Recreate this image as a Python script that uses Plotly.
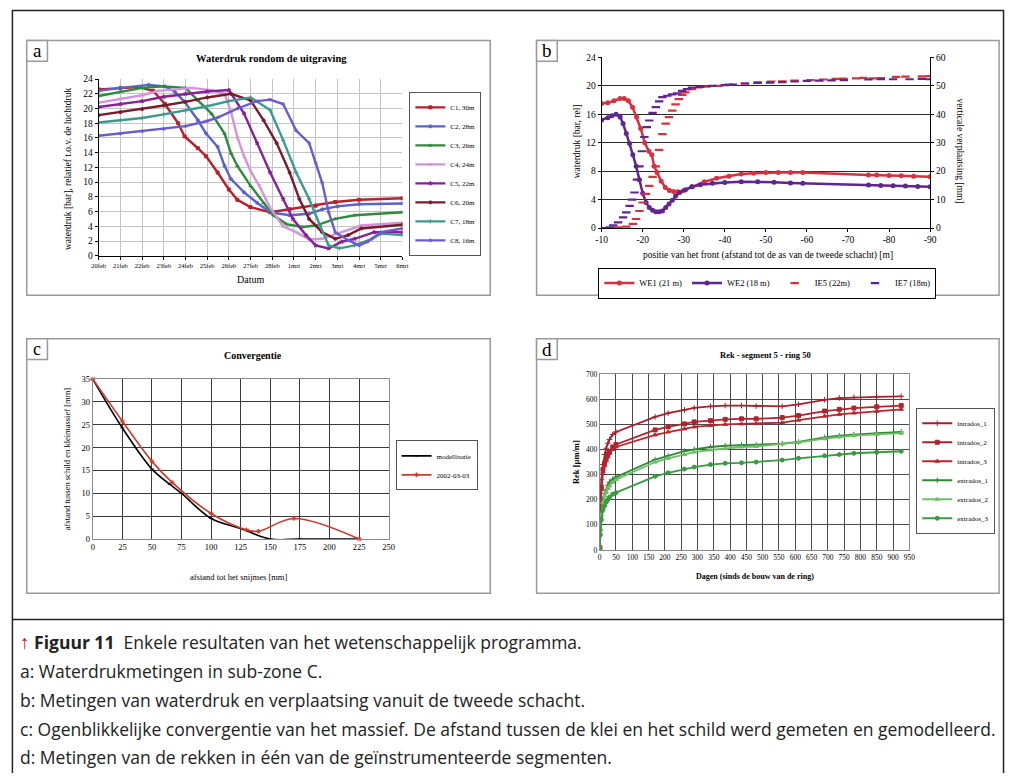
import plotly.graph_objects as go

W, H = 1013, 778
def px(x): return x / W
def py(y): return 1 - y / H

SERIF = "Liberation Serif"
SANS = "Open Sans"

# ---------------- Panel a: Waterdruk rondom de uitgraving ----------------
a_ticktext = ["20feb", "21feb", "22feb", "23feb", "24feb", "25feb", "26feb", "27feb",
              "28feb", "1mrt", "2mrt", "3mrt", "4mrt", "5mrt", "6mrt"]
a_names = ["C1, 30m", "C2, 28m", "C3, 26m", "C4, 24m", "C5, 22m", "C6, 20m", "C7, 18m", "C8, 16m"]

c1_day = [0, 1.0, 1.85, 2.5, 3.05, 3.66, 3.96, 4.57, 4.95, 5.48, 6.0, 6.39, 6.99, 7.9, 8.8, 10.0, 10.9, 12.0, 14.0]
c1_val = [22.6, 22.8, 22.9, 22.4, 20.6, 18.0, 16.2, 14.6, 13.5, 11.3, 9.0, 7.6, 6.6, 5.9, 6.3, 6.8, 7.3, 7.6, 7.8]
c2_day = [0, 1.0, 2.3, 3.05, 3.5, 3.96, 4.57, 4.95, 5.48, 5.8, 6.1, 6.7, 7.3, 7.9, 8.8, 9.7, 10.3, 11.0, 12.0, 14.0]
c2_val = [22.4, 22.8, 23.2, 23.0, 22.3, 20.9, 18.4, 16.6, 14.8, 12.2, 10.4, 8.6, 7.2, 5.9, 5.5, 5.7, 6.3, 6.7, 7.0, 7.1]
c3_day = [0, 1.0, 2.0, 3.0, 4.0, 4.57, 5.2, 5.8, 6.1, 6.39, 7.0, 7.6, 8.05, 8.65, 9.4, 10.0, 10.9, 11.8, 14.0]
c3_val = [21.7, 22.3, 22.8, 23.0, 22.8, 21.1, 19.3, 16.6, 13.9, 12.2, 9.5, 7.2, 5.5, 4.3, 3.9, 4.1, 5.0, 5.5, 5.9]
c4_day = [0, 1.0, 2.0, 2.75, 4.27, 5.2, 5.8, 6.1, 6.4, 6.7, 7.0, 7.4, 7.9, 8.5, 9.1, 9.7, 10.3, 11.2, 12.1, 14.0]
c4_val = [20.8, 21.3, 21.8, 22.4, 22.8, 22.5, 22.0, 19.5, 16.0, 13.5, 11.5, 9.5, 6.5, 4.0, 3.2, 2.2, 2.3, 3.2, 4.1, 4.5]
c5_day = [0, 1.0, 2.0, 3.0, 4.0, 5.0, 6.0, 6.7, 7.3, 7.9, 8.5, 8.95, 9.55, 10.0, 10.6, 11.2, 11.8, 12.7, 14.0]
c5_val = [20.2, 20.6, 21.0, 21.6, 22.0, 22.3, 22.5, 19.3, 15.3, 11.3, 7.7, 5.0, 2.8, 1.4, 1.0, 1.9, 2.3, 3.2, 3.2]
c6_day = [0, 1.0, 2.0, 3.0, 4.0, 5.0, 6.1, 7.0, 7.6, 8.2, 8.8, 9.25, 9.7, 10.3, 10.9, 11.5, 12.1, 14.0]
c6_val = [19.1, 19.5, 19.9, 20.4, 20.9, 21.5, 22.0, 21.1, 18.4, 15.3, 11.3, 7.7, 5.0, 3.2, 2.3, 2.8, 3.7, 4.2]
c7_day = [0, 1.0, 2.0, 3.0, 4.0, 5.0, 6.0, 7.0, 7.9, 8.5, 9.1, 9.7, 10.2, 10.6, 11.1, 11.8, 12.6, 13.0, 14.0]
c7_val = [18.1, 18.4, 18.7, 19.2, 19.7, 20.3, 21.0, 21.5, 19.8, 15.7, 11.3, 7.7, 4.1, 1.4, 1.0, 1.4, 2.3, 3.0, 2.8]
c8_day = [0, 1.0, 2.0, 3.0, 4.0, 5.0, 5.5, 6.4, 7.3, 7.9, 8.5, 9.1, 9.7, 10.0, 10.3, 10.6, 10.9, 11.5, 12.0, 12.4, 13.0, 14.0]
c8_val = [16.3, 16.6, 16.9, 17.2, 17.6, 18.3, 18.8, 20.0, 21.0, 21.2, 20.6, 17.0, 15.3, 12.6, 9.9, 5.9, 3.2, 2.1, 1.4, 1.9, 3.2, 3.7]

a_colors = ["#b8202c", "#5a63c8", "#2f8a3c", "#d493d8", "#86219a", "#7a1a2c", "#3b9a8e", "#6a5ad0"]
a_symbols = ["square", "circle", "triangle-up", "x-thin", "star", "circle", "cross-thin", "asterisk"]

# ---------------- Panel b: waterdruk / verplaatsing ----------------
we1_x = [-10, -11.5, -13, -14.5, -15.5, -16.5, -17.5, -18.5, -19.5, -20.5, -21.5, -22.2, -22.8, -23.5, -24.5,
         -25.5, -26.5, -27.5, -28.5, -30, -32, -35, -38, -41, -44, -47, -50, -53, -56, -59,
         -75, -77, -80, -83, -86, -90]
we1_y = [17.5, 17.6, 17.9, 18.2, 18.2, 17.9, 17.0, 15.6, 14.0, 12.0, 10.8, 10.3, 8.7, 7.8, 6.6,
         5.7, 5.3, 5.15, 5.1, 5.3, 5.8, 6.5, 7.0, 7.3, 7.6, 7.7, 7.8, 7.8, 7.8, 7.8,
         7.45, 7.45, 7.4, 7.35, 7.3, 7.2]
we2_x = [-10, -11.5, -12.5, -13.5, -14.5, -15.2, -16, -16.8, -17.6, -18.4, -19.2, -20, -20.8, -21.6, -22.4,
         -23.2, -24, -24.8, -25.6, -26.4, -27.2, -28, -29, -30.4, -32, -34, -37, -40, -44, -48, -52, -56, -59,
         -75, -78, -81, -84, -87, -90]
we2_y = [15.2, 15.5, 15.8, 16.0, 15.6, 14.7, 13.3, 11.9, 10.3, 8.7, 6.8, 4.9, 3.6, 2.9, 2.5,
         2.3, 2.3, 2.4, 2.9, 3.4, 3.9, 4.5, 5.0, 5.4, 5.8, 6.1, 6.3, 6.4, 6.5, 6.5, 6.45, 6.35, 6.3,
         6.05, 6.0, 5.95, 5.9, 5.85, 5.8]
ie5_x = [-10, -12, -14, -16, -17.6, -18.4, -19.2, -20, -20.8, -21.6, -22.4, -23.2, -24, -24.8, -25.6, -26.4,
         -27.2, -28, -28.8, -29.6, -30.4, -32, -33.6, -35.5, -38.4, -41, -44.9, -48, -51.3, -54, -57, -60.9,
         -64, -67, -68.9, -72, -73.7, -76, -78, -81.7, -84, -88, -89.8]
ie5_y = [0, 0, 0.3, 0.5, 1.5, 3.2, 6, 9, 12, 14.8, 18, 21.7, 27.5, 33, 36.7, 39,
         41.3, 43.5, 45.3, 46.8, 47.7, 48.8, 49.4, 49.7, 50, 50.4, 50.8, 51.2, 51.5, 51.6, 51.8, 52,
         52.2, 52.4, 52.5, 52.6, 52.8, 52.6, 52.7, 53.1, 53.2, 53.3, 53.4]
ie7_x = [-10, -11, -12, -12.8, -14, -15.2, -16, -16.8, -17.4, -18, -18.6, -19.2, -19.8, -20.4, -21, -21.6,
         -22.4, -23.2, -24, -24.8, -26, -27.2, -28.4, -29.6, -30.8, -32, -34, -36.9, -40, -42, -44.9, -48,
         -51, -54, -57, -60, -63, -66, -69, -75, -78, -81, -85, -88, -90]
ie7_y = [0, 0, 0.3, 1, 2, 3.8, 5.5, 7.8, 10, 12.5, 17, 21.7, 27, 32, 35.5, 37.8,
         40.5, 42.5, 44.5, 46, 46.5, 47, 47.3, 48.2, 48.8, 49.4, 49.6, 50, 50.2, 50.4, 50.8, 51,
         51.1, 51.3, 51.5, 51.7, 51.8, 51.9, 52, 52.2, 52.3, 52.3, 52.3, 52.4, 52.3]
b_xticks = [-10, -20, -30, -40, -50, -60, -70, -80, -90]
b_xticktext = ["-10", "-20", "-30", "-40", "-50", "-60", "-70", "-80", "-90"]
b_red, b_purple = "#d9303e", "#5f2590"

# ---------------- Panel c: Convergentie ----------------
c_model_x = [0, 25, 50, 65, 75, 100, 125, 150, 175, 200, 225]
c_model_y = [35, 24.3, 15.3, 12.0, 10.0, 4.5, 2.3, 0.0, 0.0, 0.0, 0.0]
c_meas_x = [0, 25, 50, 67, 100, 130, 140, 170, 225]
c_meas_y = [35, 25.8, 17.0, 12.4, 5.6, 2.0, 1.7, 4.5, 0.0]

# ---------------- Panel d: Rek - segment 5 - ring 50 ----------------
d_days = [0, 2, 5, 10, 15, 20, 25, 30, 40, 50, 170, 210, 260, 290, 340, 385, 435, 480, 560, 610, 690, 735, 780, 850, 925]
intrados_1 = [5, 150, 280, 340, 380, 405, 425, 440, 460, 470, 530, 545, 558, 566, 572, 575, 575, 573, 572, 580, 598, 605, 608, 610, 612]
intrados_2 = [10, 130, 250, 320, 345, 365, 380, 390, 410, 420, 478, 490, 502, 510, 515, 520, 522, 522, 527, 535, 553, 560, 565, 570, 575]
intrados_3 = [10, 120, 240, 310, 335, 355, 372, 385, 400, 410, 458, 470, 482, 490, 496, 500, 502, 503, 507, 517, 533, 540, 545, 552, 560]
extrados_1 = [10, 80, 150, 200, 225, 240, 258, 270, 282, 290, 360, 375, 393, 400, 410, 415, 418, 418, 423, 430, 448, 455, 460, 465, 470]
extrados_2 = [10, 80, 140, 190, 215, 230, 245, 255, 270, 280, 350, 365, 380, 390, 398, 404, 410, 412, 422, 428, 443, 450, 455, 460, 465]
extrados_3 = [5, 60, 120, 160, 175, 190, 200, 210, 222, 228, 293, 307, 322, 330, 340, 345, 347, 350, 358, 365, 375, 380, 385, 389, 393]

captions = [
    "<span style='color:#c8102e;font-size:19px'><b>↑</b></span> <b>Figuur 11</b>  Enkele resultaten van het wetenschappelijk programma.",
    "a: Waterdrukmetingen in sub-zone C.",
    "b: Metingen van waterdruk en verplaatsing vanuit de tweede schacht.",
    "c: Ogenblikkelijke convergentie van het massief. De afstand tussen de klei en het schild werd gemeten en gemodelleerd.",
    "d: Metingen van de rekken in één van de geïnstrumenteerde segmenten.",
]

fig = go.Figure()

# panel a traces
a_days = [c1_day, c2_day, c3_day, c4_day, c5_day, c6_day, c7_day, c8_day]
a_vals = [c1_val, c2_val, c3_val, c4_val, c5_val, c6_val, c7_val, c8_val]
for name, xs, ys, col, sym in zip(a_names, a_days, a_vals, a_colors, a_symbols):
    fig.add_trace(go.Scatter(x=xs, y=ys, name=name, mode="lines+markers", xaxis="x", yaxis="y",
                             line=dict(color=col, width=2.4),
                             marker=dict(symbol=sym, size=3, color=col, line=dict(color=col, width=1)),
                             legend="legend"))

# panel b traces
fig.add_trace(go.Scatter(x=we1_x, y=we1_y, name="WE1 (21 m)", mode="lines+markers", xaxis="x2", yaxis="y2",
                         line=dict(color=b_red, width=2.5), marker=dict(symbol="circle", size=5, color=b_red),
                         legend="legend2"))
fig.add_trace(go.Scatter(x=we2_x, y=we2_y, name="WE2 (18 m)", mode="lines+markers", xaxis="x2", yaxis="y2",
                         line=dict(color=b_purple, width=2.5), marker=dict(symbol="circle", size=5, color=b_purple),
                         legend="legend2"))
fig.add_trace(go.Scatter(x=ie5_x, y=ie5_y, name="IE5 (22m)", mode="markers", xaxis="x2", yaxis="y3",
                         marker=dict(symbol="line-ew", size=6, color=b_red, line=dict(color=b_red, width=2.2)),
                         legend="legend2"))
fig.add_trace(go.Scatter(x=ie7_x, y=ie7_y, name="IE7 (18m)", mode="markers", xaxis="x2", yaxis="y3",
                         marker=dict(symbol="line-ew", size=6, color=b_purple, line=dict(color=b_purple, width=2.2)),
                         legend="legend2"))

# panel c traces
fig.add_trace(go.Scatter(x=c_model_x, y=c_model_y, name="modellisatie", mode="lines+markers", xaxis="x3", yaxis="y4",
                         line=dict(color="#000000", width=1.6, shape="spline", smoothing=1.0),
                         marker=dict(symbol="line-ew", size=3, color="#000", line=dict(color="#000", width=1)),
                         cliponaxis=False, legend="legend3"))
fig.add_trace(go.Scatter(x=c_meas_x, y=c_meas_y, name="2002-03-03", mode="lines+markers", xaxis="x3", yaxis="y4",
                         line=dict(color="#cc3a2e", width=1.6, shape="spline", smoothing=1.0),
                         marker=dict(symbol="asterisk", size=4, color="#cc3a2e", line=dict(color="#cc3a2e", width=1)),
                         cliponaxis=False, legend="legend3"))

# panel d traces
d_series = [("intrados_1", intrados_1, "#a81e2a", "cross-thin"),
            ("intrados_2", intrados_2, "#b0222c", "square"),
            ("intrados_3", intrados_3, "#b8262e", "triangle-up"),
            ("extrados_1", extrados_1, "#2e8a34", "cross-thin"),
            ("extrados_2", extrados_2, "#6cbf66", "triangle-up"),
            ("extrados_3", extrados_3, "#3a9a40", "circle")]
for name, ys, col, sym in d_series:
    fig.add_trace(go.Scatter(x=d_days, y=ys, name=name, mode="lines+markers", xaxis="x4", yaxis="y5",
                             line=dict(color=col, width=1.8),
                             marker=dict(symbol=sym, size=4, color=col, line=dict(color=col, width=1)),
                             legend="legend4"))

tick_a = dict(family=SERIF, size=9.5, color="#000")
common = dict(zeroline=False, showline=True, linecolor="#000", linewidth=1, ticks="outside",
              ticklen=3, tickcolor="#000")

fig.update_layout(
    width=W, height=H, margin=dict(l=0, r=0, t=0, b=0),
    paper_bgcolor="white", plot_bgcolor="white",
    font=dict(family=SERIF, color="#000"),
    xaxis=dict(domain=[px(93), px(401)], anchor="y", range=[0, 14], tickmode="array",
               tickvals=list(range(15)), ticktext=a_ticktext, showgrid=True, gridcolor="#c4c4c4",
               tickfont=dict(family=SERIF, size=6.5), **common),
    yaxis=dict(domain=[py(254), py(75)], anchor="x", range=[0, 24], dtick=2, showgrid=True,
               gridcolor="#c4c4c4", tickfont=tick_a, **common),
    xaxis2=dict(domain=[px(603), px(936)], anchor="y2", range=[-10, -90], tickmode="array",
                tickvals=b_xticks, ticktext=b_xticktext, showgrid=False, tickfont=tick_a, **common),
    yaxis2=dict(domain=[py(226), py(53)], anchor="x2", range=[0, 24], dtick=4, showgrid=True,
                gridcolor="#2a2a2a", gridwidth=1, tickfont=tick_a, **common),
    yaxis3=dict(overlaying="y2", side="right", anchor="x2", range=[0, 60], dtick=10, showgrid=False,
                tickfont=tick_a, **common),
    xaxis3=dict(domain=[px(87), px(387)], anchor="y4", range=[0, 250], dtick=25, showgrid=True,
                gridcolor="#3a3a3a", zeroline=False, showline=True, mirror=True, linecolor="#8a8a8a",
                ticks="", tickfont=dict(family=SERIF, size=8.5)),
    yaxis4=dict(domain=[py(541), py(379)], anchor="x3", range=[0, 35], dtick=5, showgrid=True,
                gridcolor="#3a3a3a", zeroline=False, showline=True, mirror=True, linecolor="#8a8a8a",
                ticks="", tickfont=dict(family=SERIF, size=8.5)),
    xaxis4=dict(domain=[px(601), px(915)], anchor="y5", range=[0, 950], dtick=50, showgrid=True,
                gridcolor="#4a4a4a", zeroline=False, showline=True, mirror=True, linecolor="#8a8a8a",
                ticks="", tickfont=dict(family=SERIF, size=7.5)),
    yaxis5=dict(domain=[py(552), py(374)], anchor="x4", range=[0, 700], dtick=100, showgrid=True,
                gridcolor="#4a4a4a", zeroline=False, showline=True, mirror=True, linecolor="#8a8a8a",
                ticks="", tickfont=dict(family=SERIF, size=7.5)),
    legend=dict(x=px(408), y=py(88), xanchor="left", yanchor="top", bgcolor="white",
                bordercolor="#555", borderwidth=1, font=dict(family=SERIF, size=7), itemwidth=30,
                tracegroupgap=0),
    legend2=dict(x=px(771), y=py(266), xanchor="center", yanchor="top", orientation="h", bgcolor="white",
                 bordercolor="#000", borderwidth=1, font=dict(family=SERIF, size=8.5), itemwidth=30),
    legend3=dict(x=px(394), y=py(441), xanchor="left", yanchor="top", bgcolor="white",
                 bordercolor="#555", borderwidth=1, font=dict(family=SERIF, size=7), itemwidth=30),
    legend4=dict(x=px(922), y=py(408), xanchor="left", yanchor="top", bgcolor="white",
                 bordercolor="#555", borderwidth=1, font=dict(family=SERIF, size=7), itemwidth=30),
    showlegend=True,
)

# frames
shapes = []
def rect(x0, y0, x1, y1, color, width):
    shapes.append(dict(type="rect", xref="paper", yref="paper", x0=px(x0), x1=px(x1), y0=py(y0), y1=py(y1),
                       line=dict(color=color, width=width), fillcolor="rgba(0,0,0,0)", layer="below"))
def hline(x0, x1, y, color, width):
    shapes.append(dict(type="line", xref="paper", yref="paper", x0=px(x0), x1=px(x1), y0=py(y), y1=py(y),
                       line=dict(color=color, width=width)))
def vline(x, y0, y1, color, width):
    shapes.append(dict(type="line", xref="paper", yref="paper", x0=px(x), x1=px(x), y0=py(y0), y1=py(y1),
                       line=dict(color=color, width=width)))

hline(5, 1011, 5.5, "#222", 1.5)
hline(5, 1011, 622.5, "#222", 1.5)
vline(5.5, 5, 778, "#222", 1.5)
vline(1010.5, 5, 778, "#222", 1.5)
frame_col = "#9a9a9a"
rect(20, 36, 490, 294, frame_col, 1.5)
rect(537, 36, 1006, 294, frame_col, 1.5)
rect(20, 338, 490, 596, frame_col, 1.5)
rect(537, 338, 1006, 596, frame_col, 1.5)
for (lx, ly) in [(20, 36), (537, 36), (20, 338), (537, 338)]:
    shapes.append(dict(type="rect", xref="paper", yref="paper", x0=px(lx), x1=px(lx + 21), y0=py(ly), y1=py(ly + 21),
                       line=dict(color=frame_col, width=1.5), fillcolor="white", layer="above"))
fig.update_layout(shapes=shapes)

ann = []
def text(x, y, s, size, bold=False, angle=0, family=SERIF, xanchor="center", color="#000"):
    ann.append(dict(x=px(x), y=py(y), xref="paper", yref="paper", text=(f"<b>{s}</b>" if bold else s),
                    showarrow=False, textangle=angle, xanchor=xanchor, yanchor="middle",
                    font=dict(family=family, size=size, color=color)))

# panel letters
text(30.5, 46.5, "a", 19)
text(547.5, 46.5, "b", 19)
text(30.5, 348.5, "c", 18)
text(547.5, 348.5, "d", 19)

# panel a
text(268, 54, "Waterdruk rondom de uitgraving", 10.5, bold=True)
text(62, 166, "waterdruk [bar], relatief t.o.v. de luchtdruk", 9.5, angle=-90)
text(247, 278, "Datum", 10)
# panel b
text(578, 138, "waterdruk [bar, rel]", 9.5, angle=-90)
text(966, 148, "verticale verplaatsing [mm]", 9.5, angle=90)
text(772, 254, "positie van het front (afstand tot de as van de tweede schacht) [m]", 9.5)
# panel c
text(249, 355, "Convergentie", 10, bold=True)
text(61, 460, "afstand tussen schild en kleimassief [mm]", 8.5, angle=-90)
text(235, 579, "afstand tot het snijmes [mm]", 8.5)
# panel d
text(769, 355, "Rek - segment 5 - ring 50", 8.5, bold=True)
text(577, 463, "Rek [µm/m]", 8.5, bold=True, angle=-90)
text(758, 579, "Dagen (sinds de bouw van de ring)", 8, bold=True)

# captions
cap_y = [645, 675, 704, 733, 762]
for s, y in zip(captions, cap_y):
    text(11, y, s, 17.5, family=SANS, xanchor="left", color="#222")

fig.update_layout(annotations=ann)
fig.write_html("out.html", config={"displayModeBar": False},
               post_script="document.body.style.margin='0';document.body.style.overflow='hidden';")
